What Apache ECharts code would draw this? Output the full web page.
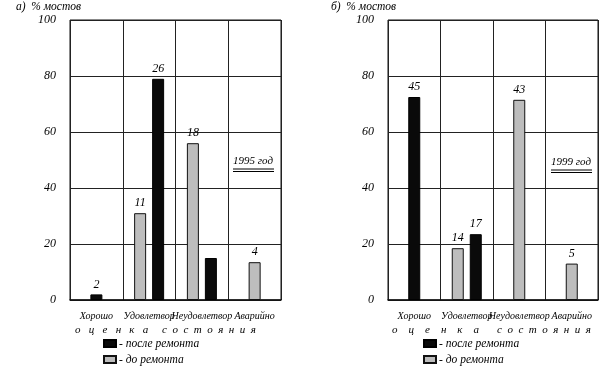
<!DOCTYPE html>
<html><head><meta charset="utf-8">
<script src="https://cdn.jsdelivr.net/npm/echarts@6/dist/echarts.min.js"></script>
<style>html,body{margin:0;padding:0;background:#fff}#c{width:605px;height:371px}</style>
</head><body><div id="c"></div>
<script>
const categories = ['Хорошо', 'Удовлетвор', 'Неудовлетвор', 'Аварийно'];
const yTicks = [0, 20, 40, 60, 80, 100];
// 1995 (a)
const before1995 = [0, 31, 56, 13.5];
const after1995 = [2, 79, 15, 0];
const beforeLbl1995 = ['', '11', '18', '4'];
const afterLbl1995 = ['2', '26', '', ''];
// 1999 (б)
const before1999 = [0, 18.5, 71.5, 13];
const after1999 = [72.5, 23.5, 0, 0];
const beforeLbl1999 = ['', '14', '43', '5'];
const afterLbl1999 = ['45', '17', '', ''];

const NAME_AFTER = 'после ремонта';
const NAME_BEFORE = 'до ремонта';
const FONT = '"Liberation Serif", "Times New Roman", serif';
const txt = {fontFamily: FONT, fontStyle: 'italic', color: '#000'};

function buildSeries(before, after, bl, al, idx) {
  const has = v => v > 0;
  const pairB = before.map((v, k) => has(v) && has(after[k]) ? v : null);
  const singB = before.map((v, k) => has(v) && !has(after[k]) ? v : null);
  const singA = after.map((v, k) => has(v) && !has(before[k]) ? v : null);
  const pairA = after.map((v, k) => has(v) && has(before[k]) ? v : null);
  const common = {
    type: 'bar', xAxisIndex: idx, yAxisIndex: idx, barWidth: 12, barGap: '-25%',
    animation: false,
    label: {show: true, position: 'top', distance: 4, fontSize: 12, ...txt}
  };
  const grayStyle = {color: '#bdbdbd', borderColor: '#111', borderWidth: 1};
  const blackStyle = {color: '#0a0a0a', borderColor: '#000', borderWidth: 1};
  return [
    {...common, name: NAME_BEFORE, stack: 'L' + idx, data: pairB, itemStyle: grayStyle,
      label: {...common.label, formatter: p => bl[p.dataIndex]}},
    {...common, name: NAME_BEFORE, stack: 'C' + idx, data: singB, itemStyle: grayStyle,
      label: {...common.label, formatter: p => bl[p.dataIndex]}},
    {...common, name: NAME_AFTER, stack: 'C' + idx, data: singA, itemStyle: blackStyle,
      label: {...common.label, formatter: p => al[p.dataIndex]}},
    {...common, name: NAME_AFTER, stack: 'R' + idx, data: pairA, itemStyle: blackStyle,
      label: {...common.label, formatter: p => al[p.dataIndex]}}
  ];
}

function xAxis(idx) {
  return {
    type: 'category', gridIndex: idx, data: categories,
    axisLine: {show: true, lineStyle: {color: '#111', width: 1.5}},
    axisTick: {show: false},
    axisLabel: {interval: 0, margin: 11, fontSize: 10, ...txt},
    splitLine: {show: true, lineStyle: {color: '#222', width: 1}}
  };
}
function yAxis(idx) {
  return {
    type: 'value', gridIndex: idx, min: yTicks[0], max: yTicks[yTicks.length - 1],
    interval: yTicks[1] - yTicks[0],
    axisLine: {show: false}, axisTick: {show: false},
    axisLabel: {margin: 14, fontSize: 12, ...txt},
    splitLine: {show: true, lineStyle: {color: '#222', width: 1}}
  };
}
function legend(left) {
  return {
    left: left, top: 337, orient: 'vertical', itemGap: 3, itemWidth: 12, itemHeight: 7,
    padding: 0, height: 34,
    icon: 'rect', selectedMode: false, data: [NAME_AFTER, NAME_BEFORE],
    formatter: n => '- ' + n,
    textStyle: {fontSize: 11.5, lineHeight: 13, padding: [0, 0, 0, -2], ...txt}
  };
}
function yearLabel(x, y, text) {
  return [
    {type: 'text', left: x, top: y, style: {text: text, font: 'italic 11px ' + FONT, fill: '#000'}},
    {type: 'line', shape: {x1: x, y1: y + 13, x2: x + 41, y2: y + 13}, style: {stroke: '#000', lineWidth: 1}},
    {type: 'line', shape: {x1: x, y1: y + 15.5, x2: x + 41, y2: y + 15.5}, style: {stroke: '#000', lineWidth: 1}}
  ];
}
function spaced(x, y, text) {
  return {type: 'text', left: x, top: y, style: {text: text, font: 'italic 11px ' + FONT, fill: '#000'}};
}

const chart = echarts.init(document.getElementById('c'), null, {renderer: 'canvas'});
chart.setOption({
  backgroundColor: '#fff',
  animation: false,
  grid: [
    {left: 70, right: 324, top: 20, bottom: 71, show: true, borderColor: '#111', borderWidth: 1},
    {left: 388, right: 7, top: 20, bottom: 71, show: true, borderColor: '#111', borderWidth: 1}
  ],
  xAxis: [xAxis(0), xAxis(1)],
  yAxis: [yAxis(0), yAxis(1)],
  legend: [legend(103), legend(423)],
  series: [...buildSeries(before1995, after1995, beforeLbl1995, afterLbl1995, 0),
           ...buildSeries(before1999, after1999, beforeLbl1999, afterLbl1999, 1)],
  graphic: [
    {type: 'text', left: 16, top: 1, style: {text: 'а)  % мостов', font: 'italic 11.5px ' + FONT, fill: '#000'}},
    {type: 'text', left: 331, top: 1, style: {text: 'б)  % мостов', font: 'italic 11.5px ' + FONT, fill: '#000'}},
    spaced(75, 325, 'о   ц   е   н   к   а'),
    spaced(162, 325, 'с  о  с  т  о  я  н  и  я'),
    spaced(392, 325, 'о    ц    е    н    к    а'),
    spaced(497, 325, 'с  о  с  т  о  я  н  и  я'),
    ...yearLabel(233, 156, '1995 год'),
    ...yearLabel(551, 157, '1999 год')
  ]
});
</script></body></html>
